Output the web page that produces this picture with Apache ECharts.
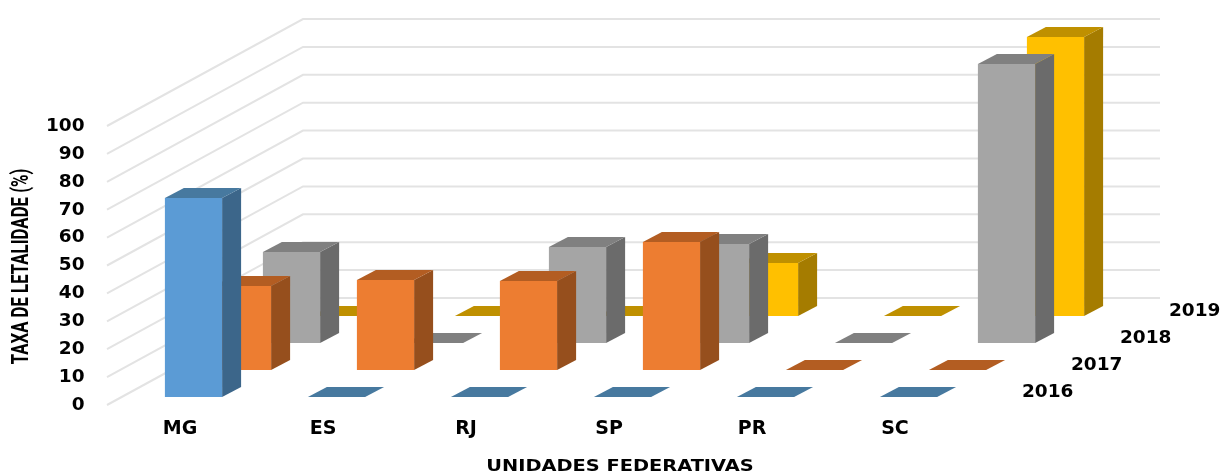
<!DOCTYPE html>
<html>
<head>
<meta charset="utf-8">
<title>Taxa de letalidade por unidade federativa</title>
<style>html,body{margin:0;padding:0;background:#fff}#chart{width:1220px;height:474px}</style>
<script src="https://cdn.jsdelivr.net/npm/echarts@6/dist/echarts.min.js"></script>
</head>
<body>
<div id="chart"></div>
<script>
// Taxa de letalidade (%) by state and year
const states = ['MG', 'ES', 'RJ', 'SP', 'PR', 'SC'];
const years = ['2016', '2017', '2018', '2019'];
const values2016 = [71.3, 0, 0, 0, 0, 0];
const values2017 = [30.1, 32.3, 31.9, 45.9, 0, 0];
const values2018 = [32.6, 0, 34.4, 35.5, 0, 100];
const values2019 = [0, 0, 0, 19, 0, 100];
const yTicks = [0, 10, 20, 30, 40, 50, 60, 70, 80, 90, 100];
const xTitle = 'UNIDADES FEDERATIVAS';
const yTitle = 'TAXA DE LETALIDADE (%)';

// Fake-perspective settings, in pixels
const rowStep = { x: 49, y: -27 };     // shift from one year row to the next
const rowOrigin = { x: 13.5, y: -8 };  // first row relative to the axis plane
const barDepth = { x: 19, y: -10 };    // extruded side of each bar
const wallDepth = { x: 196, y: -107 }; // floor run of the side wall
const wallLeft = 107;
const wallRight = 1160;

const palettes = [
  { front: '#5B9BD5', top: '#47799F', side: '#3C668A' },
  { front: '#ED7D31', top: '#B35D22', side: '#964F1D' },
  { front: '#A5A5A5', top: '#808080', side: '#6B6B6B' },
  { front: '#FFC000', top: '#BF9000', side: '#A57C00' }
];

// One extruded bar per data item; rowIndex selects the depth row
function barRenderer(rowIndex) {
  const colors = palettes[rowIndex];
  return function (params, api) {
    const band = api.size([1, 0])[0];
    const width = band * 0.4;
    const top = api.coord([api.value(0), api.value(1)]);
    const base = api.coord([api.value(0), 0]);
    const x0 = top[0] + rowOrigin.x + rowIndex * rowStep.x - width / 2;
    const x1 = x0 + width;
    const shift = rowOrigin.y + rowIndex * rowStep.y;
    const yTop = top[1] + shift;
    const yBase = base[1] + shift;
    const d = barDepth;
    const poly = (points, fill) => ({
      type: 'polygon',
      shape: { points: points },
      style: { fill: fill, stroke: null }
    });
    return {
      type: 'group',
      children: [
        poly([[x1, yTop], [x1 + d.x, yTop + d.y], [x1 + d.x, yBase + d.y], [x1, yBase]], colors.side),
        poly([[x0, yBase], [x1, yBase], [x1, yTop], [x0, yTop]], colors.front),
        poly([[x0, yTop], [x1, yTop], [x1 + d.x, yTop + d.y], [x0 + d.x, yTop + d.y]], colors.top)
      ]
    };
  };
}

// Gridline running along the side wall and then along the back wall
function wallRenderer(params, api) {
  const y = api.coord([0, api.value(1)])[1];
  return {
    type: 'polyline',
    shape: {
      points: [
        [wallLeft, y],
        [wallLeft + wallDepth.x, y + wallDepth.y],
        [wallRight, y + wallDepth.y]
      ]
    },
    style: { fill: null, stroke: '#E3E3E3', lineWidth: 2 },
    silent: true
  };
}

// Year captions along the depth axis, to the right of the last state
function yearRenderer(params, api) {
  const rowIndex = params.dataIndex;
  const base = api.coord([states.length - 1, 0]);
  return {
    type: 'text',
    style: {
      x: base[0] + 127 + rowIndex * rowStep.x,
      y: base[1] + rowOrigin.y - 4.5 + rowIndex * rowStep.y,
      text: years[rowIndex],
      fill: '#000',
      font: 'bold 18.5px "DejaVu Sans"',
      textAlign: 'left',
      textVerticalAlign: 'middle'
    }
  };
}

const rows = [values2016, values2017, values2018, values2019];
const barSeries = rows.map((values, i) => ({
  name: years[i],
  type: 'custom',
  renderItem: barRenderer(i),
  clip: false,
  z: 10 + (rows.length - i),
  data: values.map((v, j) => [j, v]),
  encode: { x: 0, y: 1 }
}));

const chart = echarts.init(document.getElementById('chart'));
chart.setOption({
  animation: false,
  backgroundColor: '#fff',
  grid: { left: 108.5, top: 126, width: 858, height: 279, outerBoundsMode: 'none' },
  // Axis titles are stretched so they keep the proportions of the printed chart
  graphic: [
    {
      type: 'text',
      x: 620,
      y: 467,
      scaleX: 1.21,
      style: {
        text: xTitle,
        font: 'bold 16px "DejaVu Sans"',
        fill: '#000',
        textAlign: 'center',
        textVerticalAlign: 'middle'
      }
    },
    {
      type: 'text',
      x: 22.5,
      y: 266.5,
      rotation: Math.PI / 2,
      scaleX: 0.73,
      style: {
        text: yTitle,
        font: 'bold 23px Roboto',
        fill: '#000',
        textAlign: 'center',
        textVerticalAlign: 'middle'
      }
    }
  ],
  xAxis: {
    type: 'category',
    data: states,
    axisLine: { show: false },
    axisTick: { show: false },
    splitLine: { show: false },
    axisLabel: { margin: 15, fontFamily: 'DejaVu Sans', fontWeight: 'bold', fontSize: 19, color: '#000' }
  },
  yAxis: {
    type: 'value',
    min: 0,
    max: 100,
    interval: 10,
    axisLine: { show: false },
    axisTick: { show: false },
    splitLine: { show: false },
    axisLabel: { margin: 24, padding: [3, 0, 0, 0], fontFamily: 'DejaVu Sans', fontWeight: 'bold', fontSize: 18.5, color: '#000' }
  },
  series: [
    {
      type: 'custom',
      renderItem: wallRenderer,
      clip: false,
      silent: true,
      z: 1,
      data: yTicks.map(v => [0, v]),
      encode: { x: 0, y: 1 }
    },
    {
      type: 'custom',
      renderItem: yearRenderer,
      clip: false,
      silent: true,
      z: 2,
      data: years.map((y, i) => [states.length - 1, 0, i])
    }
  ].concat(barSeries.slice().reverse())
});
</script>
</body>
</html>
